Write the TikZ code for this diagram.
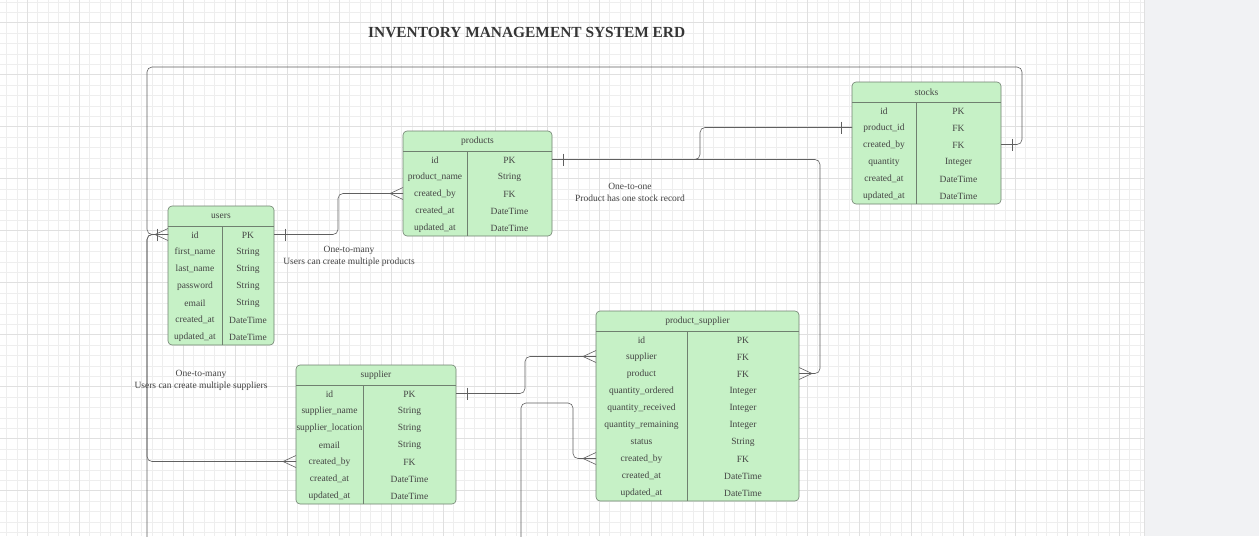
\documentclass[tikz,border=0pt]{standalone}
\usepackage{fontspec}
\setmainfont{Liberation Serif}
\usepackage{tikz}
\usetikzlibrary{calc}

\definecolor{erdfill}{RGB}{198,241,198}
\definecolor{erdframe}{RGB}{112,128,112}
\definecolor{erdtext}{RGB}{68,68,68}
\definecolor{erdline}{RGB}{96,96,96}
\definecolor{gridminor}{RGB}{238,238,238}
\definecolor{gridmajor}{RGB}{224,224,224}
\definecolor{sidepanel}{RGB}{241,242,244}

\tikzset{
  tableframe/.style={draw=erdframe, fill=erdfill, line width=0.6pt, rounded corners=4},
  tablerule/.style={draw=erdframe, line width=0.6pt},
  headtext/.style={inner sep=0.75pt, text=erdtext, font=\fontsize{9.5}{11}\selectfont},
  celltext/.style={inner sep=0.75pt, text=erdtext, font=\fontsize{9.5}{11}\selectfont},
  notetext/.style={inner sep=0.75pt, text=erdtext, align=center, font=\fontsize{9.5}{12}\selectfont},
  relline/.style={draw=erdline, line width=0.6pt, rounded corners=5},
  crowW/.pic={\draw[relline] (-13,0) -- (0,-6) (-13,0) -- (0,6);},
  crowE/.pic={\draw[relline] (13,0) -- (0,-6) (13,0) -- (0,6);},
  barW/.pic={\draw[relline] (-11,-6) -- (-11,6);},
  barE/.pic={\draw[relline] (11,-6) -- (11,6);},
}

% #1 name, #2 x, #3 y, #4 width, #5 divider, #6 rows, #7 title, #8 fields
\newcommand{\erdtable}[8]{%
  \draw[tableframe] (#2,#3) rectangle ++(#4,{20+#6*17});
  \draw[tablerule] (#2,#3+20) -- ++(#4,0);
  \draw[tablerule] (#2+#5,#3+20) -- ++(0,{#6*17});
  \node[headtext] (#1) at ({#2+#4/2},{#3+10.5}) {#7};
  \foreach \fname/\ftype [count=\i] in {#8} {
    \coordinate (#1-\i-w) at (#2,{#3+20+(\i-0.5)*17});
    \coordinate (#1-\i-e) at ({#2+#4},{#3+20+(\i-0.5)*17});
    \node[celltext] (#1-\i-name) at ({#2+#5/2},{#3+20.7+(\i-0.5)*17}) {\fname};
    \node[celltext] (#1-\i-type) at ({#2+#5+(#4-#5)/2},{#3+20.7+(\i-0.5)*17}) {\ftype};
  }%
}

\begin{document}
\begin{tikzpicture}[x=1pt,y=-1pt]
        \useasboundingbox (0,0) rectangle (1259,536);
        % Background grid
        \fill[white] (0,0) rectangle (1144,536);
        \foreach \gx in {6.5,16.9,...,1144} \draw[gridminor, line width=0.5pt] (\gx,0) -- (\gx,536);
        \foreach \gy in {1.9,12.3,...,536} \draw[gridminor, line width=0.5pt] (0,\gy) -- (1144,\gy);
        \foreach \gx in {27.3,79.3,...,1144} \draw[gridmajor, line width=0.6pt] (\gx,0) -- (\gx,536);
        \foreach \gy in {22.7,74.7,...,536} \draw[gridmajor, line width=0.6pt] (0,\gy) -- (1144,\gy);
        \fill[sidepanel] (1144,0) rectangle (1259,536);
        \draw[gridmajor, line width=1pt] (1144,0) -- (1144,536);

        % Title
        \node[anchor=west, inner sep=0pt, text=erdtext!80!black, font=\fontsize{15.4}{18}\selectfont\bfseries] (title) at (368,32.5) {INVENTORY MANAGEMENT SYSTEM ERD};

        % Tables
        \erdtable{users}{168}{206}{106}{54}{7}{users}{id/PK, first\_name/String, last\_name/String, password/String, email/String, created\_at/DateTime, updated\_at/DateTime}
        \erdtable{products}{403}{131}{149}{64}{5}{products}{id/PK, product\_name/String, created\_by/FK, created\_at/DateTime, updated\_at/DateTime}
        \erdtable{stocks}{852}{82}{149}{64}{6}{stocks}{id/PK, product\_id/FK, created\_by/FK, quantity/Integer, created\_at/DateTime, updated\_at/DateTime}
        \erdtable{supplier}{296}{365}{160}{67}{7}{supplier}{id/PK, supplier\_name/String, supplier\_location/String, email/String, created\_by/FK, created\_at/DateTime, updated\_at/DateTime}
        \erdtable{psupply}{596}{311}{203}{91}{10}{product\_supplier}{id/PK, supplier/FK, product/FK, quantity\_ordered/Integer, quantity\_received/Integer, quantity\_remaining/Integer, status/String, created\_by/FK, created\_at/DateTime, updated\_at/DateTime}

        %Connectors
        \coordinate (offleft) at (147,540);
        \coordinate (offmid) at (521,540);
        % users -> products
        \draw[relline] (users-1-e) -- ++(64,0) |- (products-3-w);
        % products -> stocks
        \draw[relline] (products-1-e) -- ++(148,0) |- (stocks-2-w);
        % products -> product_supplier
        \draw[relline] (products-1-e) -- ++(268,0) |- (psupply-3-e);
        % stocks -> users
        \draw[relline] (stocks-3-e) -- ++(21,0) |- (147,67) |- (users-1-w);
        % users -> supplier
        \draw[relline] (users-1-w) -- ++(-21,0) |- (supplier-5-w);
        \draw[relline] (users-1-w) -- ++(-21,0) -- (offleft);
        % supplier -> product_supplier
        \draw[relline] (supplier-1-e) -- ++(69,0) |- (psupply-2-w);
        % lower line -> product_supplier
        \draw[relline] (offmid) -- (521,403) -- (573,403) |- (psupply-8-w);

        % Ends
        \pic at (users-1-e) {barE};
        \pic at (products-3-w) {crowW};
        \pic at (products-1-e) {barE};
        \pic at (stocks-2-w) {barW};
        \pic at (psupply-3-e) {crowE};
        \pic at (stocks-3-e) {barE};
        \pic at (users-1-w) {crowW};
        \pic at (users-1-w) {barW};
        \pic at (supplier-5-w) {crowW};
        \pic at (supplier-1-e) {barE};
        \pic at (psupply-2-w) {crowW};
        \pic at (psupply-8-w) {crowW};

        % Text Node
        \node[notetext] (note1) at (349,256) {One-to-many\\Users can create multiple products};
        % Text Node
        \node[notetext] (note2) at (630,192) {One-to-one\\Product has one stock record};
        % Text Node
        \node[notetext] (note3) at (201,380) {One-to-many\\Users can create multiple suppliers};
\end{tikzpicture}
\end{document}
